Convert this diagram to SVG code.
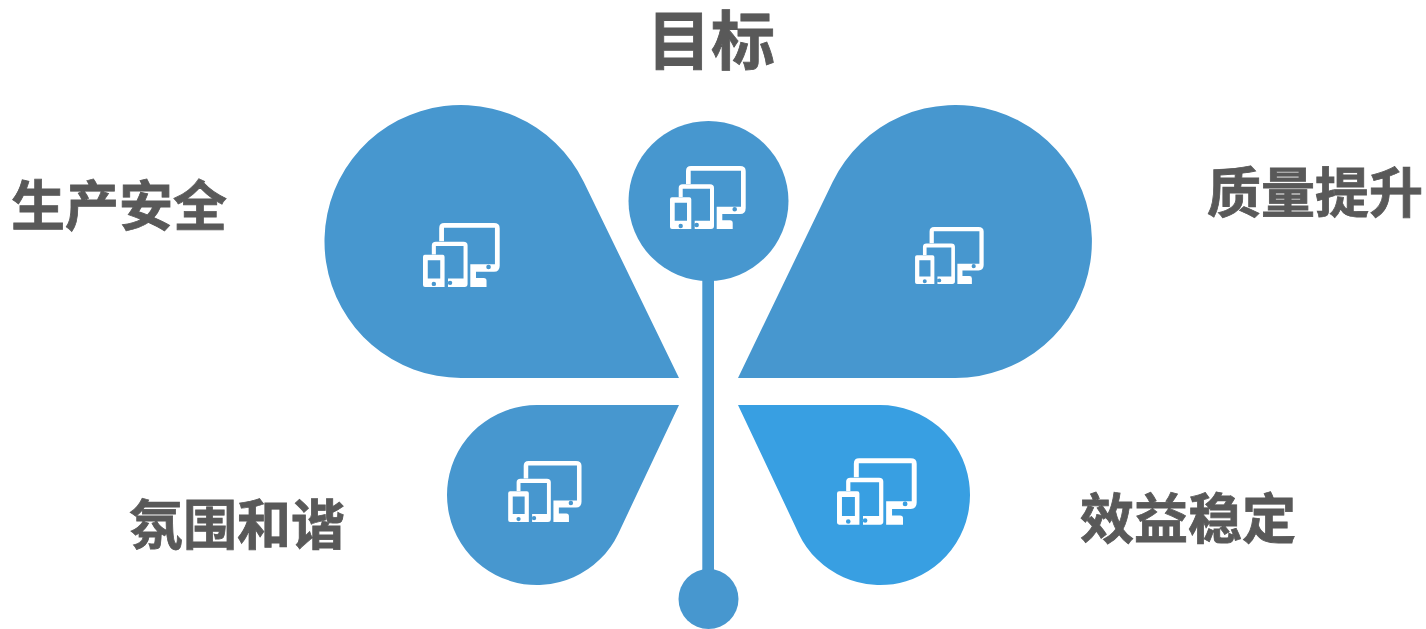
<svg xmlns="http://www.w3.org/2000/svg" width="1426" height="629" viewBox="0 0 1426 629">
<style>
.p{fill:#4797cf}
.b{fill:#389fe2}
.t{font-family:"Liberation Sans","Noto Sans CJK SC",sans-serif;font-weight:700;fill:#595959;stroke:#595959;stroke-width:.8px;text-anchor:middle}
</style>
<defs>
<symbol id="dev" viewBox="0 0 76 64" overflow="visible">
<path fill="#fff" fill-rule="evenodd" d="M16 19V6Q16 1 21 1H70Q75.700 1 75.700 6V43Q75.700 49 70 49H52.300V55.300H60Q62.700 55.300 62.700 58V64H46.700V41.700H71V5.700H20.700V19ZM64.700 42A2.300 2.300 0 1 0 64.701 46.600A2.300 2.300 0 1 0 64.700 42Z"/>
<path fill="#fff" fill-rule="evenodd" d="M8.700 32V23Q8.700 19.300 12.700 19.300H40Q44 19.300 44 23V61Q44 64 41 64H24.700V55.700H40V23.700H12.700V32ZM26.700 57.800A2.200 2.200 0 1 0 26.701 62.200A2.200 2.200 0 1 0 26.700 57.800Z"/>
<path fill="#fff" fill-rule="evenodd" d="M2 32.300H19.300Q21.300 32.300 21.300 34.300V64H2Q0 64 0 62V34.300Q0 32.300 2 32.300ZM4.700 37.700V55.700H17V37.700ZM10.700 58.800A2.200 2.200 0 1 0 10.701 63.200A2.200 2.200 0 1 0 10.700 58.800Z"/>
</symbol>
</defs>
<g id="connectors">
<rect class="p" x="702.300" y="275" width="11.700" height="300"/>
</g>
<g id="node-top">
<circle class="p" cx="708.500" cy="201" r="80"/>
<use href="#dev" x="670" y="165" width="76" height="64"/>
</g>
<g id="node-bottom-dot">
<circle class="p" cx="708.500" cy="599" r="30"/>
</g>
<g id="petal-upper-left">
<path class="p" d="M679 378H461A136.500 136.500 0 1 1 583.800 181.900Z"/>
<use href="#dev" x="423" y="222" width="77" height="65"/>
</g>
<g id="petal-upper-right">
<path class="p" d="M738 378H955A136.500 136.500 0 1 0 832.600 181.900Z"/>
<use href="#dev" x="915" y="226" width="69" height="58"/>
</g>
<g id="petal-lower-left">
<path class="p" d="M679 405H537A90 90 0 1 0 618.400 533.400Z"/>
<use href="#dev" x="508" y="460" width="74" height="62"/>
</g>
<g id="petal-lower-right">
<path class="b" d="M738 405H880A90 90 0 1 1 798.600 533.400Z"/>
<use href="#dev" x="837" y="457" width="80" height="68"/>
</g>
<g id="labels">
<text class="t" x="711" y="64" font-size="64">目标</text>
<text class="t" x="119" y="226" font-size="54">生产安全</text>
<text class="t" x="1315" y="213" font-size="54">质量提升</text>
<text class="t" x="237" y="545" font-size="54">氛围和谐</text>
<text class="t" x="1188" y="539" font-size="54">效益稳定</text>
</g>
</svg>
